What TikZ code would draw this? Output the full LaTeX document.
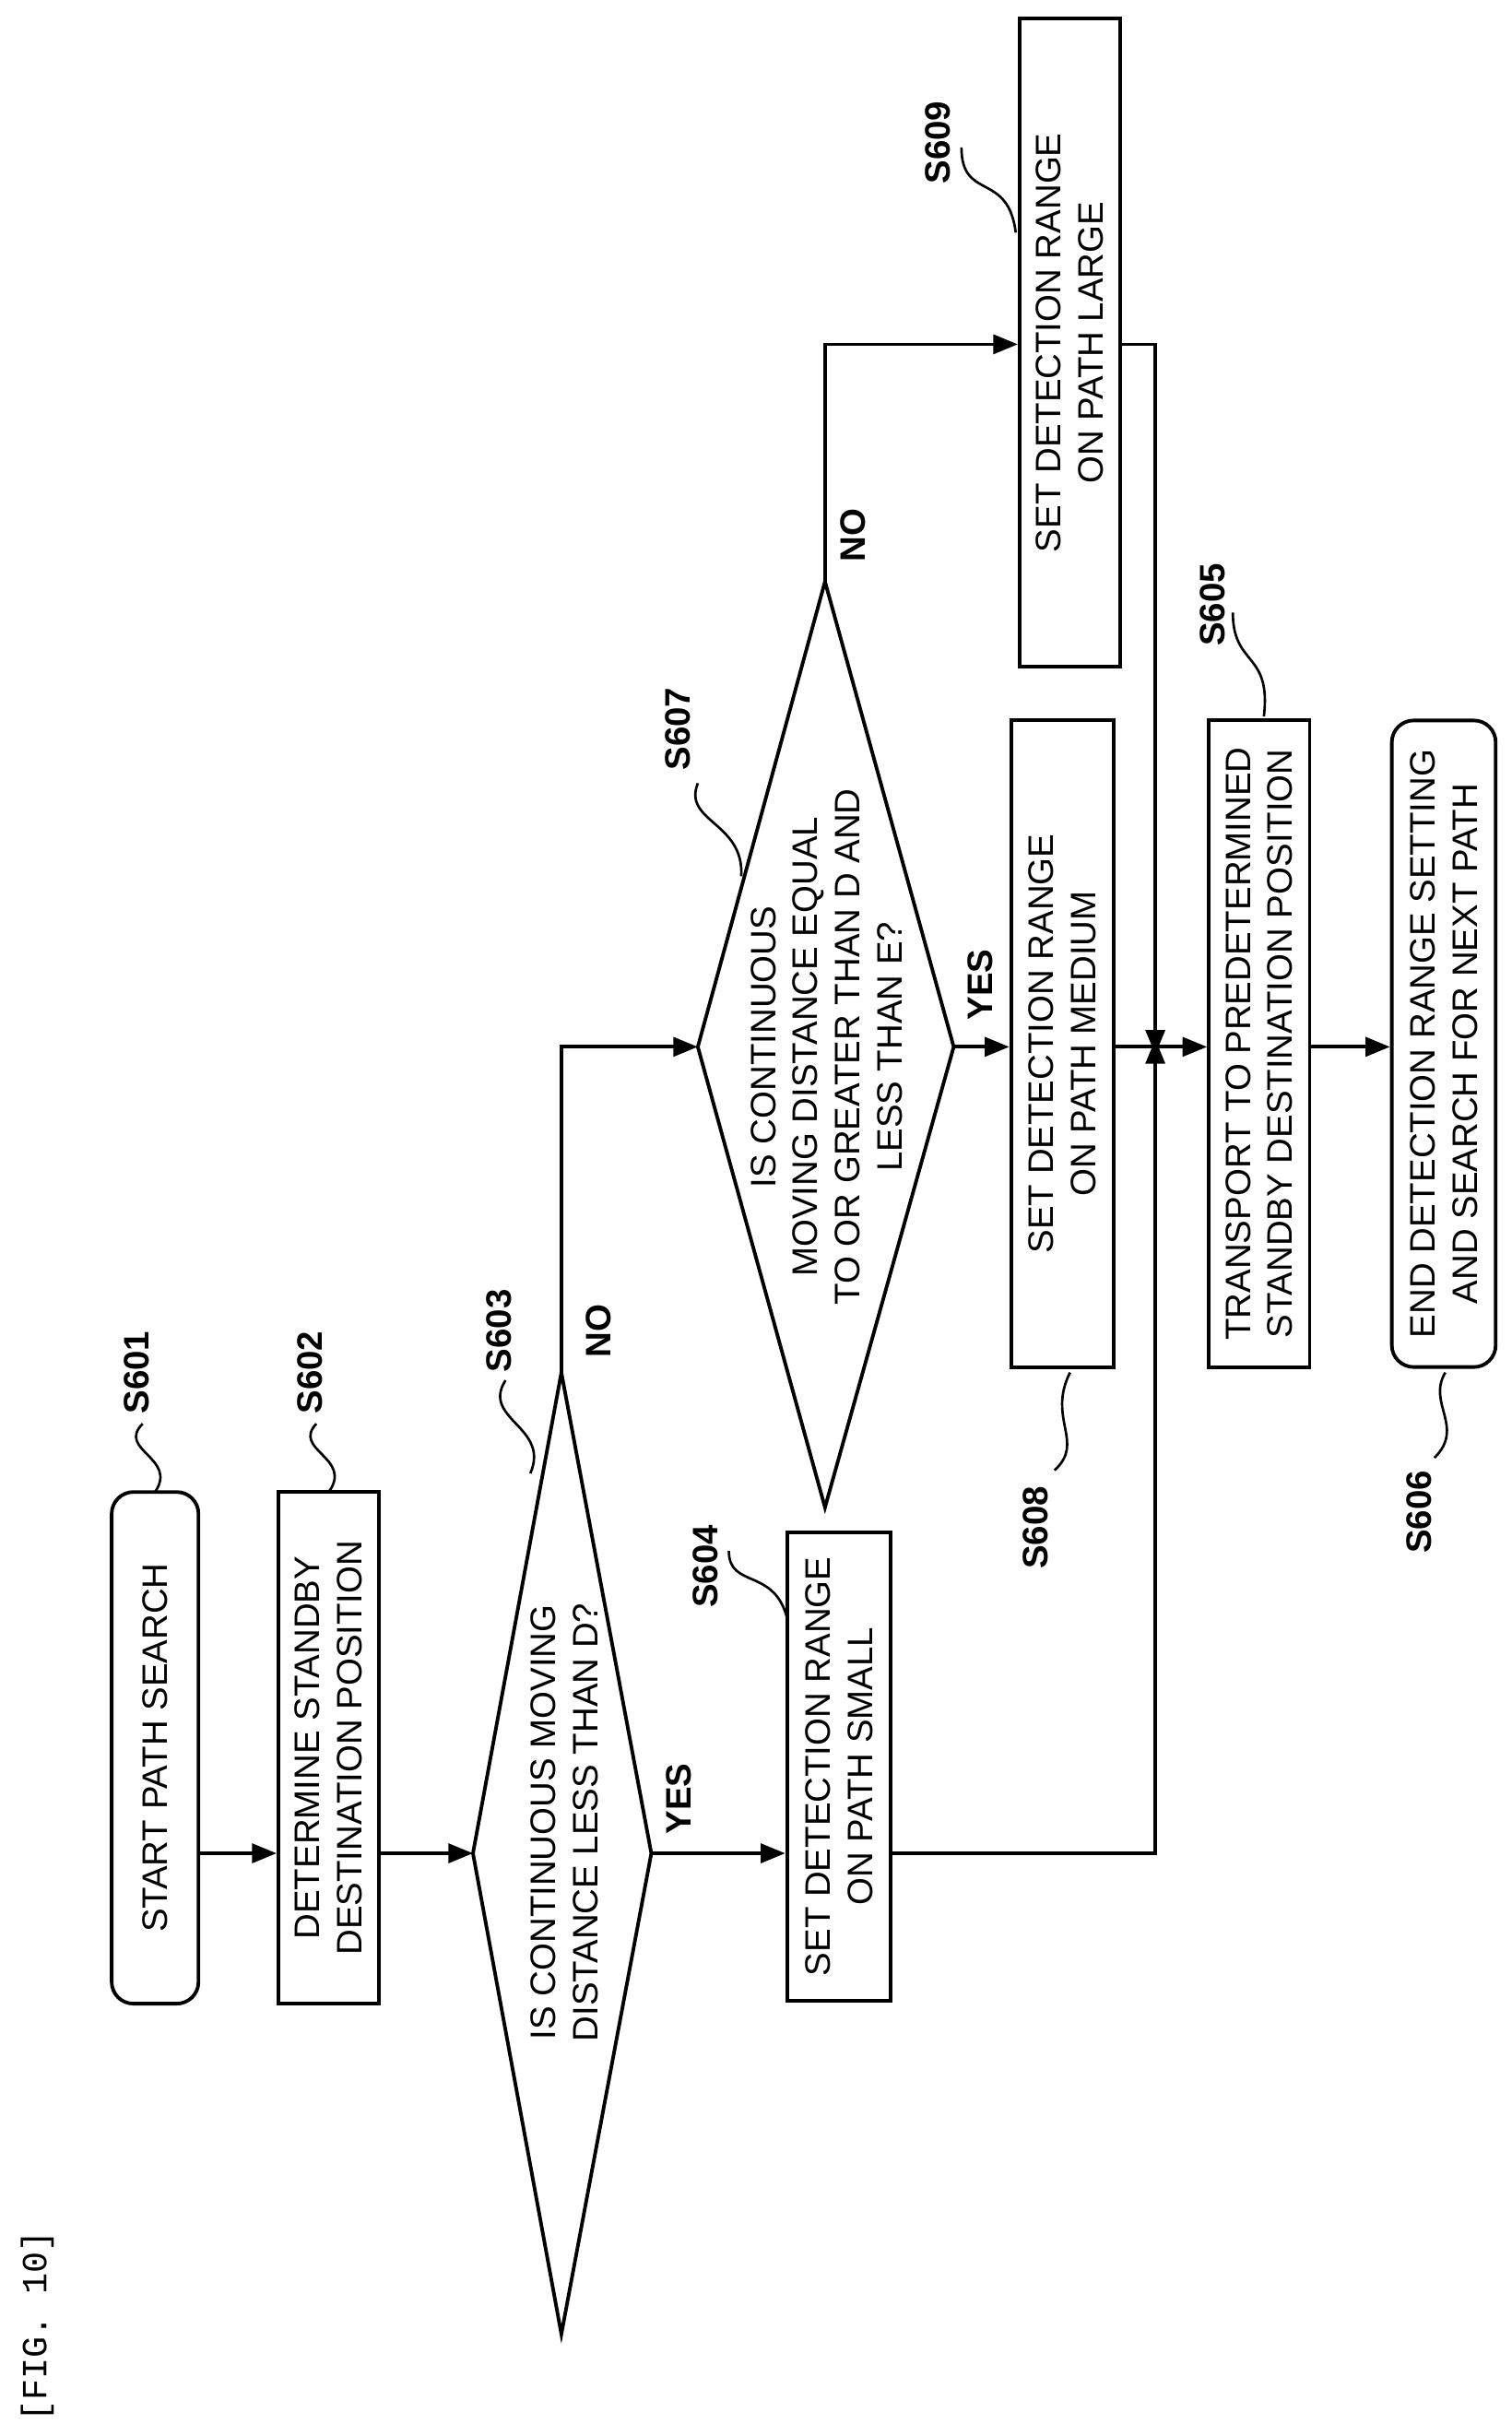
\documentclass[tikz,border=0pt]{standalone}
\usepackage{fontspec}
\setmainfont{Liberation Sans}
\setmonofont{Liberation Mono}
\usetikzlibrary{arrows.meta}
\begin{document}
\begin{tikzpicture}[x=0.02cm,y=-0.02cm,line width=1.3pt,
  box/.style={draw,rotate=90,align=center,inner sep=1pt,font=\fontsize{13}{15.5}\selectfont},
  rbox/.style={box,rounded corners=8pt},
  lbl/.style={rotate=90,font=\bfseries\fontsize{13}{15}\selectfont},
  txt/.style={rotate=90,align=center,font=\fontsize{13}{15.5}\selectfont},
  arr/.style={-{Triangle[length=9pt,width=7pt]}},
  lead/.style={line width=0.9pt}]
\useasboundingbox (0,0) rectangle (975,1563);
\node[rotate=90,font=\ttfamily\fontsize{13}{15}\selectfont] (fig) at (24,1500) {[FIG. 10]};
% boxes
\node[rbox,minimum width=6.6cm,minimum height=1.12cm] (s601) at (100,1127) {START PATH SEARCH};
\node[box,minimum width=6.6cm,minimum height=1.3cm] (s602) at (212,1127) {DETERMINE STANDBY\\DESTINATION POSITION};
\node[box,minimum width=6.04cm,minimum height=1.34cm] (s604) at (541,1139) {SET DETECTION RANGE\\ON PATH SMALL};
\node[box,minimum width=8.34cm,minimum height=1.32cm] (s608) at (685,673) {SET DETECTION RANGE\\ON PATH MEDIUM};
\node[box,minimum width=8.36cm,minimum height=1.3cm] (s609) at (690,221) {SET DETECTION RANGE\\ON PATH LARGE};
\node[box,minimum width=8.34cm,minimum height=1.3cm] (s605) at (812,673) {TRANSPORT TO PREDETERMINED\\STANDBY DESTINATION POSITION};
\node[rbox,minimum width=8.34cm,minimum height=1.34cm] (s606) at (931,673) {END DETECTION RANGE SETTING\\AND SEARCH FOR NEXT PATH};
% diamonds
\coordinate (d3t) at (362,885); \coordinate (d3b) at (362,1505);
\coordinate (d3l) at (305,1195); \coordinate (d3r) at (420,1195);
\draw (d3t)--(d3r)--(d3b)--(d3l)--cycle;
\node[txt] (t603) at (364,1175) {IS CONTINUOUS MOVING\\DISTANCE LESS THAN D?};
\coordinate (d7t) at (532,375); \coordinate (d7b) at (532,972);
\coordinate (d7l) at (450,675); \coordinate (d7r) at (615,675);
\draw (d7t)--(d7r)--(d7b)--(d7l)--cycle;
\node[txt] (t607) at (533,675) {IS CONTINUOUS\\MOVING DISTANCE EQUAL\\TO OR GREATER THAN D AND\\LESS THAN E?};
% connectors
\draw[arr] (s601.south |- d3l) -- (s602.north |- d3l);
\draw[arr] (s602.south |- d3l) -- (d3l);
\draw[arr] (d3r) -- (s604.north |- d3r);
\node[lbl] (yes1) at (438,1160) {YES};
\draw[arr] (d3t) -- (362,675) -- (d7l);
\node[lbl] (no1) at (386,858) {NO};
\draw[arr] (d7r) -- (s608.north |- d7r);
\node[lbl] (yes2) at (632,635) {YES};
\draw[arr] (d7t) -- (532,222) -- (s609.north |- 0,222);
\node[lbl] (no2) at (550,345) {NO};
\coordinate (j) at (745,675);
\draw[arr] (s609.south |- 0,222) -- (745,222) -- ([yshift=-0.1cm]j);
\draw[arr] (s604.south |- d3r) -- (745,1195) -- ([yshift=0.1cm]j);
\draw[arr] (s608.south |- j) -- (s605.north |- j);
\draw[arr] (s605.south |- j) -- (s606.north |- j);
% step labels with leaders
\node[lbl] (l601) at (88,885) {S601};
\draw[lead] (92,918) .. controls (75,935) and (115,940) .. (100,962);
\node[lbl] (l602) at (200,885) {S602};
\draw[lead] (204,918) .. controls (188,935) and (228,940) .. (212,962);
\node[lbl] (l603) at (322,858) {S603};
\draw[lead] (326,890) .. controls (310,915) and (355,920) .. (342,950);
\node[lbl] (l604) at (455,1010) {S604};
\draw[lead] (470,1000) .. controls (470,1025) and (500,1010) .. (508,1045);
\node[lbl] (l607) at (437,470) {S607};
\draw[lead] (450,505) .. controls (440,530) and (480,530) .. (478,565);
\node[lbl] (l609) at (605,92) {S609};
\draw[lead] (620,95) .. controls (620,130) and (650,110) .. (655,150);
\node[lbl] (l605) at (782,390) {S605};
\draw[lead] (795,395) .. controls (795,430) and (820,420) .. (815,462);
\node[lbl] (l608) at (668,985) {S608};
\draw[lead] (680,948) .. controls (700,930) and (675,915) .. (690,885);
\node[lbl] (l606) at (915,975) {S606};
\draw[lead] (925,940) .. controls (945,920) and (920,905) .. (932,885);
\end{tikzpicture}
\end{document}
